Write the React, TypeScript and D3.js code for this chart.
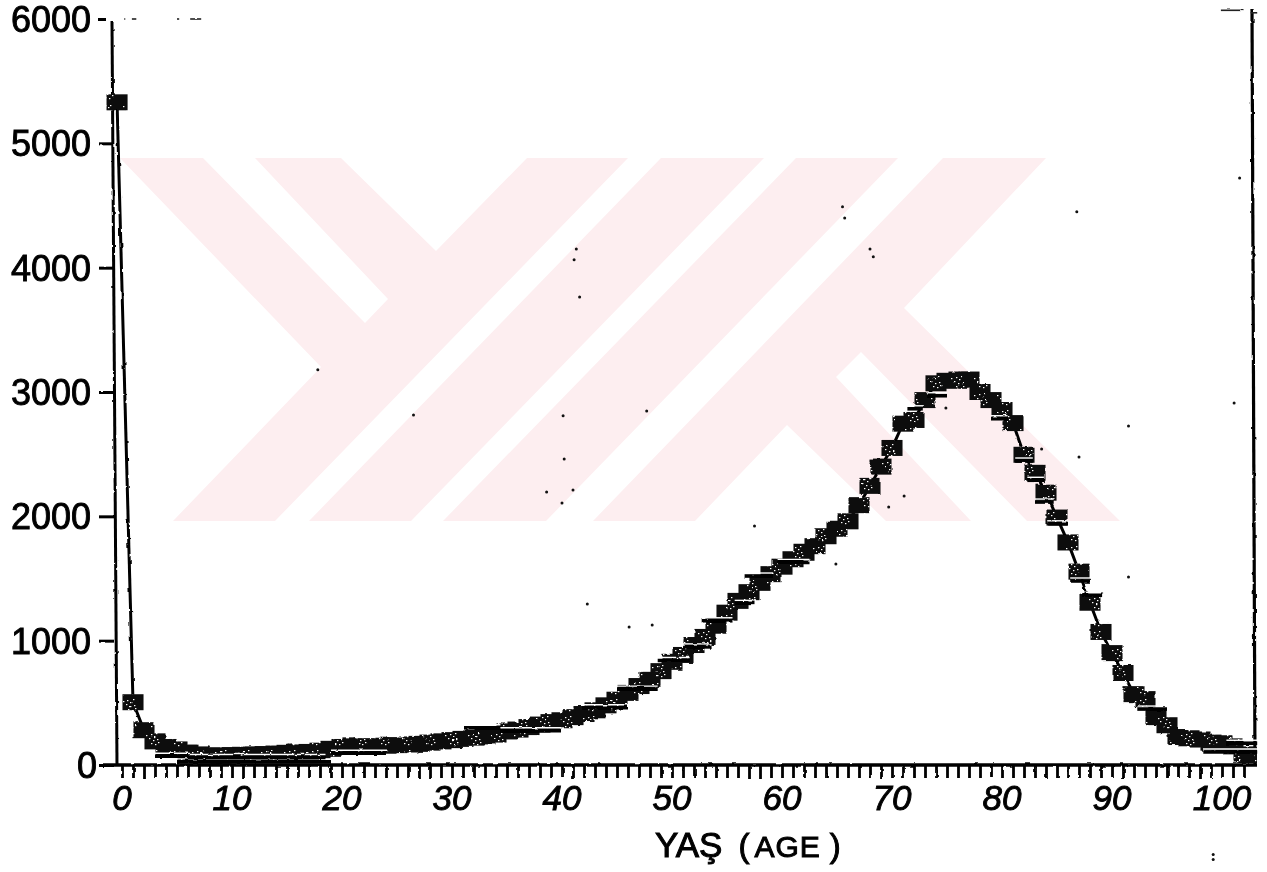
import { useRef, useEffect } from 'react';
import * as d3 from 'd3';

// values, one per year of age
const ageValues = [
  5330, 505, 280, 190, 145, 125, 100, 85, 78, 75,
  80, 82, 85, 88, 92, 98, 100, 105, 115, 130,
  145, 150, 150, 150, 155, 160, 165, 170, 180, 190,
  200, 210, 220, 230, 245, 270, 285, 305, 325, 345,
  360, 385, 410, 440, 480, 525, 580, 635, 685, 755,
  830, 885, 965, 1030, 1120, 1225, 1320, 1390, 1465, 1535,
  1595, 1655, 1715, 1760, 1840, 1900, 1960, 2090, 2245, 2400,
  2550, 2745, 2775, 2935, 3070, 3090, 3100, 3100, 3000, 2935,
  2855, 2750, 2495, 2350, 2190, 1990, 1790, 1555, 1305, 1070,
  900, 740, 570, 530, 385, 320, 225, 215, 205, 180,
  175, 150, 85, 80,
];
const ages = ageValues.map((_, i) => (i === 0 ? -0.45 : i));

// the loose horizontal strokes beside the markers: [from age, to age, value]
const strokes = [
  [3, 6, 70], [5, 19, 25], [6, 18.5, 60], [19, 24, 95],
  [31, 34.4, 300], [34.4, 40, 275], [41.8, 46, 460], [45, 48.7, 610],
  [48.7, 51.6, 840], [51, 53.6, 950], [52.7, 55.5, 1160], [55.7, 57.5, 1300],
  [56.6, 59.2, 1520], [59.6, 62.5, 1630], [71.4, 72.8, 2865], [73.2, 75, 2970],
  [79, 80.5, 2785], [81.2, 82.8, 2445], [82.3, 83.9, 2290], [83, 84.7, 2115],
  [84.2, 86, 1940], [86.2, 88, 1480], [87.3, 89.1, 1365], [92.3, 95, 450],
  [100.4, 103.2, 175], [98.3, 103.2, 105],
];

// what survives of the top border in the scan
const topBorderBits = [
  [0.2, 0.3, 6000], [0.9, 1.3, 6000], [5, 5.2, 6000], [6.2, 7.2, 6000],
  [99.9, 102, 6070], [102.6, 103.2, 6050],
];

// dust on the scan: [age, value]
const specks = [
  [17.8, 3178], [26.5, 2815], [41.3, 4150], [41.1, 4063], [41.6, 3765], [40.1, 2808],
  [47.7, 2848], [40.2, 2462], [38.6, 2196], [41, 2212], [40, 2108], [65.5, 4489],
  [65.7, 4400], [68, 4150], [68.3, 4087], [86.8, 4449], [71.1, 2164], [69.7, 2076],
  [74.9, 2872], [83.6, 2542], [87, 2478], [91.5, 2727], [57.5, 1923], [101.1, 2912],
  [91.5, 1512], [42.3, 1295], [46.1, 1110], [48.2, 1126], [64.9, 1617], [101.6, 4722],
  [99.2, -720], [99.2, -760],
];

const yTicks = [0, 1000, 2000, 3000, 4000, 5000, 6000];
const xTicks = d3.range(0, 103);

// watermark behind the chart
const watermark = [
  '120,158 203,158 365,323 388,299 255,158 341,158 436,251 527,158 628,158 275,521 173,521 321,367',
  '661,158 764,158 411,521 309,521',
  '796,158 898,158 546,521 443,521',
  '943,158 1046,158 904,308 1120,521 1027,521 861,352 836,377 971,521 886,521 787,425 695,521 593,521',
];

const markerW = 21;
const markerH = 16;
const plotRight = 1257;

const MortalityChart = () => {
  const svgRef = useRef<SVGSVGElement>(null);

  useEffect(() => {
    const svg = d3.select(svgRef.current);
    svg.selectAll('*').remove();

    const x = d3.scaleLinear().domain([0, 100]).range([122, 1222]);
    const y = d3.scaleLinear().domain([0, 6000]).range([765, 19]);

    const defs = svg.append('defs');

    const rough = defs.append('filter')
      .attr('id', 'rough')
      .attr('filterUnits', 'userSpaceOnUse')
      .attr('x', 0).attr('y', 0).attr('width', 1267).attr('height', 872);
    rough.append('feTurbulence')
      .attr('type', 'fractalNoise')
      .attr('baseFrequency', 0.12)
      .attr('numOctaves', 2)
      .attr('seed', 4)
      .attr('result', 'noise');
    rough.append('feDisplacementMap')
      .attr('in', 'SourceGraphic')
      .attr('in2', 'noise')
      .attr('scale', 2.5)
      .attr('xChannelSelector', 'R')
      .attr('yChannelSelector', 'G');

    // speckled toner inside the markers
    const toner = defs.append('pattern')
      .attr('id', 'toner')
      .attr('patternUnits', 'userSpaceOnUse')
      .attr('width', 23)
      .attr('height', 17);
    toner.append('rect').attr('width', 23).attr('height', 17).attr('fill', '#0a0a0a');
    [[13, 3], [16, 5], [18, 2], [11, 7], [15, 9], [19, 8], [13, 12], [17, 13], [8, 4], [20, 11]].forEach(([cx, cy]) => {
      toner.append('rect')
        .attr('x', cx).attr('y', cy)
        .attr('width', 1.4).attr('height', 1.2)
        .attr('fill', '#fff');
    });

    svg.append('g')
      .selectAll('polygon')
      .data(watermark)
      .enter().append('polygon')
      .attr('points', d => d)
      .attr('fill', '#fdeef0');

    const ink = svg.append('g').attr('filter', 'url(#rough)');

    // frame
    ink.append('line')
      .attr('x1', 112).attr('y1', 22).attr('x2', 117).attr('y2', y(0))
      .attr('stroke', '#000').attr('stroke-width', 3);
    ink.append('line')
      .attr('x1', 1252).attr('y1', 9).attr('x2', 1255).attr('y2', y(0))
      .attr('stroke', '#000').attr('stroke-width', 3.2);
    ink.append('line')
      .attr('x1', 103).attr('y1', y(0)).attr('x2', plotRight).attr('y2', y(0))
      .attr('stroke', '#000').attr('stroke-width', 3.4);

    ink.selectAll('.bit')
      .data(topBorderBits)
      .enter().append('line')
      .attr('class', 'bit')
      .attr('x1', d => x(d[0]))
      .attr('x2', d => x(d[1]))
      .attr('y1', d => y(d[2]))
      .attr('y2', d => y(d[2]))
      .attr('stroke', '#222')
      .attr('stroke-width', 1.6);

    // axes
    const xAxis = ink.append('g')
      .attr('transform', `translate(0,${y(0)})`)
      .call(d3.axisBottom(x).tickValues(xTicks).tickSize(13).tickFormat(() => ''));
    xAxis.select('.domain').remove();
    xAxis.selectAll('.tick line').attr('stroke', '#000').attr('stroke-width', 2.8);

    const yAxis = ink.append('g')
      .attr('transform', 'translate(113,0)')
      .call(d3.axisLeft(y).tickValues(yTicks).tickSize(0).tickFormat(() => ''));
    yAxis.select('.domain').remove();
    yAxis.selectAll('.tick line')
      .attr('x1', d => (d === 6000 ? -15 : -14))
      .attr('x2', d => (d === 6000 ? -6 : 1))
      .attr('stroke', '#000').attr('stroke-width', 3);

    // curve and markers
    const line = d3.line<number>()
      .x((_, i) => x(ages[i]))
      .y(d => y(d));
    ink.append('path')
      .datum(ageValues)
      .attr('d', line)
      .attr('fill', 'none')
      .attr('stroke', '#000')
      .attr('stroke-width', 3);

    ink.selectAll('.marker')
      .data(ageValues)
      .enter().append('rect')
      .attr('class', 'marker')
      .attr('x', (_, i) => Math.min(x(ages[i]) - markerW / 2, plotRight - markerW))
      .attr('y', d => y(d) - markerH / 2)
      .attr('width', markerW)
      .attr('height', markerH)
      .attr('fill', 'url(#toner)');

    // thin white gap over each stroke, as the scan shows
    ink.selectAll('.gap')
      .data(strokes)
      .enter().append('line')
      .attr('class', 'gap')
      .attr('x1', d => x(d[0]))
      .attr('x2', d => x(d[1]))
      .attr('y1', d => y(d[2]) - 3)
      .attr('y2', d => y(d[2]) - 3)
      .attr('stroke', '#fff')
      .attr('stroke-width', 1.4);

    ink.selectAll('.stroke')
      .data(strokes)
      .enter().append('line')
      .attr('class', 'stroke')
      .attr('x1', d => x(d[0]))
      .attr('x2', d => x(d[1]))
      .attr('y1', d => y(d[2]))
      .attr('y2', d => y(d[2]))
      .attr('stroke', '#000')
      .attr('stroke-width', 3.6);

    svg.append('g')
      .selectAll('circle')
      .data(specks)
      .enter().append('circle')
      .attr('cx', d => x(d[0]))
      .attr('cy', d => y(d[1]))
      .attr('r', 1.5)
      .attr('fill', '#111');

    // tick labels
    const labels = svg.append('g')
      .attr('font-family', '"Liberation Sans", Arial, sans-serif')
      .attr('font-size', 36)
      .attr('fill', '#000')
      .attr('stroke', '#000')
      .attr('stroke-width', 0.9);

    labels.selectAll('.ylab')
      .data(yTicks)
      .enter().append('text')
      .attr('class', 'ylab')
      .attr('x', d => (d === 0 ? 97 : 91))
      .attr('y', d => y(d) + 13)
      .attr('text-anchor', 'end')
      .text(d => d);

    labels.selectAll('.xlab')
      .data(d3.range(0, 101, 10))
      .enter().append('text')
      .attr('class', 'xlab')
      .attr('x', d => x(d))
      .attr('y', 810)
      .attr('text-anchor', 'middle')
      .attr('font-size', 35)
      .attr('font-style', 'italic')
      .text(d => d);

    const title = svg.append('text')
      .attr('x', 655)
      .attr('y', 857)
      .attr('font-family', '"Liberation Sans", Arial, sans-serif')
      .attr('fill', '#000')
      .attr('stroke', '#000')
      .attr('stroke-width', 1);
    title.append('tspan').attr('font-size', 35).text('YAŞ');
    title.append('tspan').attr('font-size', 33).attr('dx', 16).text('(');
    title.append('tspan').attr('font-size', 30).attr('dx', 5).attr('letter-spacing', 1).text('AGE');
    title.append('tspan').attr('font-size', 33).attr('dx', 9).text(')');
  }, []);

  return (
    <svg
      ref={svgRef}
      width="1267"
      height="872"
      style={{ position: 'absolute', left: 0, top: 0, display: 'block', background: '#fff' }}
    />
  );
};

export default function App() {
  return <MortalityChart />;
}
